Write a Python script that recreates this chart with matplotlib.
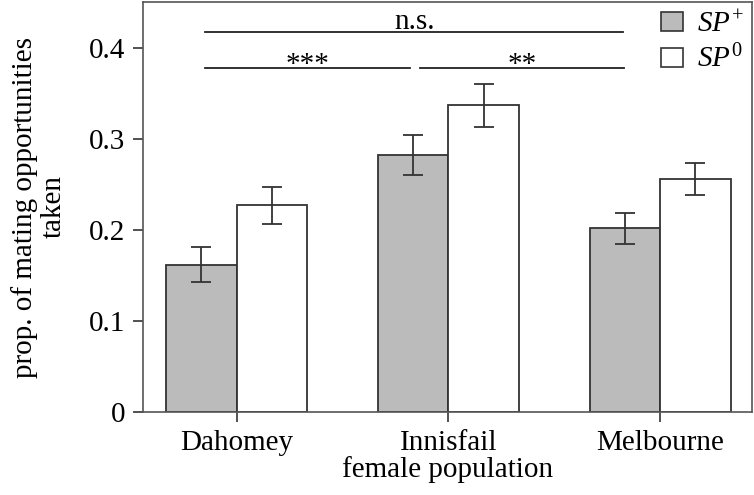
import numpy as np
import matplotlib
matplotlib.use('Agg')
import matplotlib.pyplot as plt
from matplotlib import rc
from matplotlib.patches import Patch

rc('font', **{'family': 'serif', 'serif': ['Liberation Serif', 'DejaVu Serif'], 'size': 21})
rc('mathtext', **{'fontset': 'custom', 'rm': 'Liberation Serif', 'it': 'Liberation Serif:italic'})

populations = ['Dahomey', 'Innisfail', 'Melbourne']
sp_plus = [0.162, 0.282, 0.202]
sp_plus_err = [0.0195, 0.022, 0.017]
sp_zero = [0.227, 0.337, 0.256]
sp_zero_err = [0.020, 0.0235, 0.0175]

fig = plt.figure(figsize=(7.54, 4.95), dpi=100)
ax = fig.add_axes([143 / 754, 83 / 495, 609 / 754, 410 / 495])

x = np.arange(len(populations))
w = 1 / 3
kw = dict(edgecolor='#333333', linewidth=1.3, capsize=7,
          error_kw={'elinewidth': 1.3, 'capthick': 1.3, 'ecolor': '#333333'})
ax.bar(x - w / 2, sp_plus, w, yerr=sp_plus_err, color='#bbbbbb', **kw)
ax.bar(x + w / 2, sp_zero, w, yerr=sp_zero_err, color='white', **kw)

ax.set_xlim(-0.443, 2.434)
ax.set_ylim(0, 0.4505)
ax.set_yticks([0, 0.1, 0.2, 0.3, 0.4])
ax.set_yticklabels(['0', '0.1', '0.2', '0.3', '0.4'])
ax.set_xticks(x)
ax.set_xticklabels(populations)
ax.tick_params(direction='out', length=7, width=1.2, color='#333333', pad=6)
for s in ax.spines.values():
    s.set_color('#555555')
    s.set_linewidth(1.2)

ax.set_xlabel('female population', labelpad=0)
ax.set_ylabel('prop. of mating opportunities\ntaken', labelpad=16, linespacing=1.1)

# significance brackets
ax.plot([-0.15, 1.825], [0.4176, 0.4176], color='#222222', lw=1.3)
ax.text(0.84, 0.414, 'n.s.', ha='center', va='bottom')
ax.plot([-0.15, 0.82], [0.3777, 0.3777], color='#222222', lw=1.3)
ax.text(0.335, 0.367, '***', ha='center', va='bottom')
ax.plot([0.865, 1.83], [0.3777, 0.3777], color='#222222', lw=1.3)
ax.text(1.35, 0.367, '**', ha='center', va='bottom')

handles = [Patch(facecolor='#bbbbbb', edgecolor='#333333', lw=1.2),
           Patch(facecolor='white', edgecolor='#333333', lw=1.2)]
ax.legend(handles, ['$SP^{+}$', '$SP^{0}$'], loc='upper right', frameon=False,
          handlelength=0.76, handleheight=0.65, handletextpad=0.45,
          borderaxespad=0.1, borderpad=0.2, labelspacing=0.25, fontsize=21)

fig.savefig('out.png', dpi=100)
